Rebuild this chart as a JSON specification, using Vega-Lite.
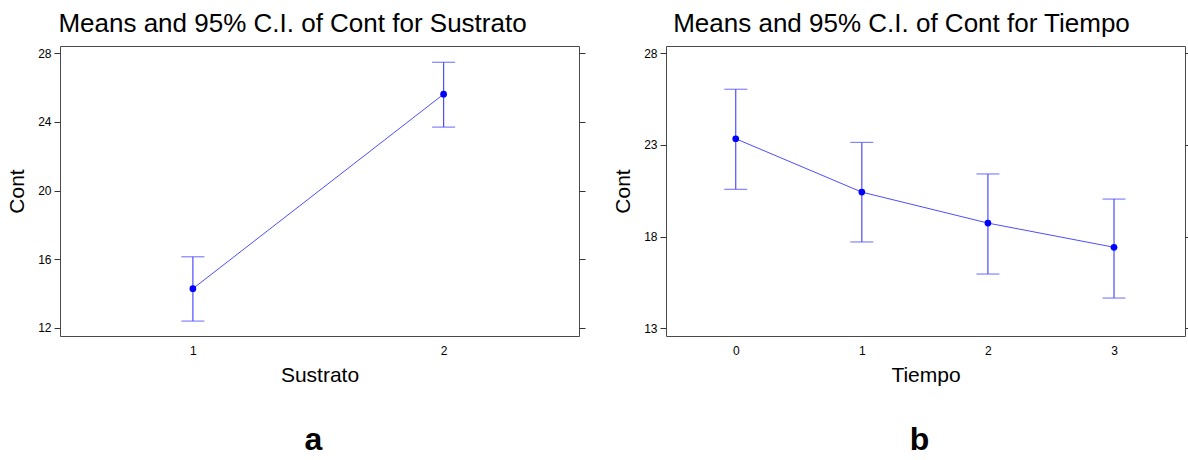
{
  "$schema": "https://vega.github.io/schema/vega-lite/v6.json",
  "background": "white",
  "padding": {"left": 6, "top": 9, "right": 0, "bottom": 0},
  "spacing": 26,
  "config": {
    "font": "Liberation Sans",
    "view": {"stroke": "#4a4a4a", "strokeWidth": 1},
    "axis": {
      "domain": false,
      "grid": false,
      "labelFont": "Liberation Sans",
      "labelFontSize": 12,
      "labelColor": "#000000",
      "tickColor": "#333333",
      "tickSize": 6,
      "titleFont": "Liberation Sans",
      "titleFontWeight": "normal",
      "titleColor": "#000000"
    },
    "title": {"font": "Liberation Sans", "color": "#000000"}
  },
  "datasets": {
    "sustrato": [
      {"Sustrato": 1, "mean": 14.28, "lower": 12.39, "upper": 16.14},
      {"Sustrato": 2, "mean": 25.62, "lower": 23.70, "upper": 27.48}
    ],
    "tiempo": [
      {"Tiempo": 0, "mean": 23.34, "lower": 20.58, "upper": 26.04},
      {"Tiempo": 1, "mean": 20.43, "lower": 17.71, "upper": 23.14},
      {"Tiempo": 2, "mean": 18.74, "lower": 15.96, "upper": 21.42},
      {"Tiempo": 3, "mean": 17.42, "lower": 14.65, "upper": 20.05}
    ]
  },
  "hconcat": [
    {
      "width": 519,
      "height": 290,
      "data": {"name": "sustrato"},
      "title": {"text": "a", "orient": "bottom", "anchor": "middle", "frame": "group", "fontSize": 32, "fontWeight": "bold", "offset": 40, "dx": -6},
      "layer": [
        {
          "mark": {"type": "rule", "color": "#4d4dff", "strokeWidth": 1.2},
          "encoding": {
            "x": {"field": "Sustrato", "type": "quantitative", "scale": {"domain": [0.47, 2.54], "nice": false, "zero": false},
                  "axis": {"orient": "bottom", "values": [1, 2], "format": "d", "ticks": false, "labelPadding": 9, "title": "Sustrato", "titleFontSize": 21, "titlePadding": 8}},
            "y": {"field": "lower", "type": "quantitative", "scale": {"domain": [11.52, 28.43], "nice": false, "zero": false},
                  "axis": {"orient": "left", "values": [12, 16, 20, 24, 28], "labelPadding": 3, "title": "Cont", "titleFontSize": 21, "titlePadding": 10}},
            "y2": {"field": "upper"}
          }
        },
        {
          "mark": {"type": "line", "color": "#4d4dff", "strokeWidth": 1},
          "encoding": {
            "x": {"field": "Sustrato", "type": "quantitative",
                  "axis": {"orient": "top", "labels": false, "ticks": false, "title": "Means and 95% C.I. of Cont for Sustrato", "titleFontSize": 26, "titleX": 232, "titleY": -15, "titleBaseline": "alphabetic", "titleAlign": "center", "titleAnchor": null}},
            "y": {"field": "mean", "type": "quantitative",
                  "axis": {"orient": "right", "values": [12, 16, 20, 24, 28], "labels": false, "title": null}}
          }
        },
        {
          "mark": {"type": "tick", "orient": "horizontal", "color": "#4d4dff", "size": 23, "thickness": 1.2},
          "encoding": {
            "x": {"field": "Sustrato", "type": "quantitative", "axis": null},
            "y": {"field": "upper", "type": "quantitative", "axis": null}
          }
        },
        {
          "mark": {"type": "tick", "orient": "horizontal", "color": "#4d4dff", "size": 23, "thickness": 1.2},
          "encoding": {
            "x": {"field": "Sustrato", "type": "quantitative", "axis": null},
            "y": {"field": "lower", "type": "quantitative", "axis": null}
          }
        },
        {
          "mark": {"type": "circle", "color": "#0000ff", "opacity": 1, "size": 45},
          "encoding": {
            "x": {"field": "Sustrato", "type": "quantitative", "axis": null},
            "y": {"field": "mean", "type": "quantitative", "axis": null}
          }
        }
      ]
    },
    {
      "width": 519,
      "height": 290,
      "data": {"name": "tiempo"},
      "title": {"text": "b", "orient": "bottom", "anchor": "middle", "frame": "group", "fontSize": 32, "fontWeight": "bold", "offset": 40, "dx": -6},
      "layer": [
        {
          "mark": {"type": "rule", "color": "#4d4dff", "strokeWidth": 1.2},
          "encoding": {
            "x": {"field": "Tiempo", "type": "quantitative", "scale": {"domain": [-0.553, 3.563], "nice": false, "zero": false},
                  "axis": {"orient": "bottom", "values": [0, 1, 2, 3], "format": "d", "ticks": false, "labelPadding": 9, "title": "Tiempo", "titleFontSize": 21, "titlePadding": 8}},
            "y": {"field": "lower", "type": "quantitative", "scale": {"domain": [12.58, 28.40], "nice": false, "zero": false},
                  "axis": {"orient": "left", "values": [13, 18, 23, 28], "labelPadding": 3, "title": "Cont", "titleFontSize": 21, "titlePadding": 10}},
            "y2": {"field": "upper"}
          }
        },
        {
          "mark": {"type": "line", "color": "#4d4dff", "strokeWidth": 1},
          "encoding": {
            "x": {"field": "Tiempo", "type": "quantitative",
                  "axis": {"orient": "top", "labels": false, "ticks": false, "title": "Means and 95% C.I. of Cont for Tiempo", "titleFontSize": 26, "titleX": 235, "titleY": -15, "titleBaseline": "alphabetic", "titleAlign": "center", "titleAnchor": null}},
            "y": {"field": "mean", "type": "quantitative",
                  "axis": {"orient": "right", "values": [13, 18, 23, 28], "labels": false, "title": null}}
          }
        },
        {
          "mark": {"type": "tick", "orient": "horizontal", "color": "#4d4dff", "size": 23, "thickness": 1.2},
          "encoding": {
            "x": {"field": "Tiempo", "type": "quantitative", "axis": null},
            "y": {"field": "upper", "type": "quantitative", "axis": null}
          }
        },
        {
          "mark": {"type": "tick", "orient": "horizontal", "color": "#4d4dff", "size": 23, "thickness": 1.2},
          "encoding": {
            "x": {"field": "Tiempo", "type": "quantitative", "axis": null},
            "y": {"field": "lower", "type": "quantitative", "axis": null}
          }
        },
        {
          "mark": {"type": "circle", "color": "#0000ff", "opacity": 1, "size": 45},
          "encoding": {
            "x": {"field": "Tiempo", "type": "quantitative", "axis": null},
            "y": {"field": "mean", "type": "quantitative", "axis": null}
          }
        }
      ]
    }
  ]
}
